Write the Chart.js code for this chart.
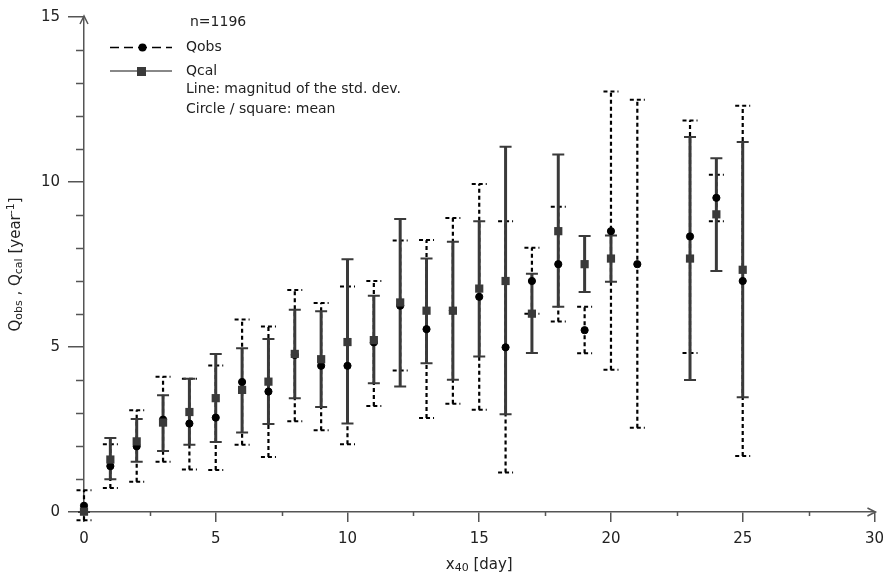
<!DOCTYPE html>
<html>
<head>
<meta charset="utf-8">
<script src="https://cdn.jsdelivr.net/npm/chart.js@4/dist/chart.umd.min.js"></script>
<style>
  html, body { margin: 0; padding: 0; background: #fff; }
  #wrap { width: 892px; height: 581px; }
</style>
</head>
<body>
<div id="wrap"><canvas id="qchart" width="892" height="581"></canvas></div>
<script>
// x40 classes in days
const days = [0, 1, 2, 3, 4, 5, 6, 7, 8, 9, 10, 11, 12, 13, 14, 15, 16, 17, 18, 19, 20, 21, 23, 24, 25];

// observed rate: mean and mean -/+ std. dev.
const obsMean = [0.19, 1.39, 1.99, 2.80, 2.68, 2.86, 3.94, 3.65, 4.76, 4.43, 4.43, 5.14, 6.25, 5.54, 6.10, 6.52, 4.99, 7.00, 7.51, 5.51, 8.51, 7.51, 8.35, 9.52, 7.00];
const obsLow  = [-0.25, 0.73, 0.92, 1.52, 1.29, 1.27, 2.04, 1.67, 2.75, 2.48, 2.05, 3.21, 4.29, 2.85, 3.28, 3.10, 1.20, 6.01, 5.77, 4.81, 4.31, 2.55, 4.82, 8.81, 1.70];
const obsHigh = [0.66, 2.05, 3.08, 4.10, 4.04, 4.44, 5.83, 5.62, 6.73, 6.33, 6.83, 7.00, 8.23, 8.24, 8.91, 9.94, 8.81, 8.01, 9.25, 6.22, 12.74, 12.49, 11.86, 10.22, 12.31];

// calculated rate (no value for day 21)
const calMean = [0.01, 1.59, 2.14, 2.71, 3.03, 3.45, 3.70, 3.95, 4.79, 4.63, 5.15, 5.21, 6.35, 6.10, 6.10, 6.77, 7.00, 6.01, 8.51, 7.51, 7.68, null, 7.68, 9.02, 7.34];
const calLow  = [0.00, 0.99, 1.52, 1.85, 2.04, 2.12, 2.41, 2.67, 3.45, 3.18, 2.68, 3.90, 3.80, 4.51, 4.01, 4.71, 2.96, 4.82, 6.22, 6.67, 6.98, null, 4.00, 7.30, 3.48];
const calHigh = [0.00, 2.24, 2.82, 3.54, 4.04, 4.79, 4.96, 5.24, 6.13, 6.08, 7.66, 6.55, 8.88, 7.68, 8.19, 8.81, 11.07, 7.22, 10.83, 8.36, 8.38, null, 11.36, 10.72, 11.21];

const xTicks = [0, 5, 10, 15, 20, 25, 30];
const yTicks = [0, 5, 10, 15];
const sampleSize = 1196;

const axisColor = '#555';
const textColor = '#222';
const calColor = '#3a3a3a';
const fontFam = '"DejaVu Sans", Verdana, sans-serif';

function toPoints(vals) {
    return days.map((d, i) => vals[i] === null ? null : { x: d, y: vals[i] }).filter(p => p);
}

// vertical std. dev. bars, drawn under the markers
const errorBars = {
    id: 'errorBars',
    beforeDatasetsDraw(chart) {
        const ctx = chart.ctx;
        const xs = chart.scales.x, ys = chart.scales.y;

        function bar(i, lo, hi, dashed, color, width, capW) {
            if (lo[i] === null) return;
            const px = xs.getPixelForValue(days[i]);
            const y1 = ys.getPixelForValue(lo[i]);
            const y2 = ys.getPixelForValue(hi[i]);
            ctx.save();
            ctx.strokeStyle = color;
            ctx.lineWidth = width;
            ctx.setLineDash(dashed ? [4, 3] : []);
            ctx.beginPath();
            ctx.moveTo(px, y1);
            ctx.lineTo(px, y2);
            ctx.stroke();
            ctx.lineWidth = 2;
            ctx.setLineDash(dashed ? [4, 3] : []);
            ctx.beginPath();
            ctx.moveTo(px - capW / 2, y1); ctx.lineTo(px + capW / 2, y1);
            ctx.moveTo(px - capW / 2, y2); ctx.lineTo(px + capW / 2, y2);
            ctx.stroke();
            ctx.restore();
        }

        days.forEach((d, i) => bar(i, obsLow, obsHigh, true, '#000', 2.2, 15));
        days.forEach((d, i) => bar(i, calLow, calHigh, false, calColor, 3, 12));
    }
};

// minor ticks, arrow heads, axis titles and the text legend
const decorations = {
    id: 'decorations',
    afterDraw(chart) {
        const ctx = chart.ctx;
        const xs = chart.scales.x, ys = chart.scales.y;
        const area = chart.chartArea;
        ctx.save();
        ctx.strokeStyle = axisColor;
        ctx.lineWidth = 1.5;
        ctx.beginPath();
        for (let v = 0; v <= 15; v++) {
            if (v % 5 === 0) continue;
            const py = Math.round(ys.getPixelForValue(v)) + 0.5;
            ctx.moveTo(area.left - 8, py); ctx.lineTo(area.left, py);
        }
        for (let v = 2.5; v < 30; v += 5) {
            const px = Math.round(xs.getPixelForValue(v)) + 0.5;
            ctx.moveTo(px, area.bottom); ctx.lineTo(px, area.bottom + 4);
        }
        // arrows
        ctx.moveTo(area.right - 7, area.bottom - 4); ctx.lineTo(area.right + 1, area.bottom); ctx.lineTo(area.right - 7, area.bottom + 4);
        ctx.moveTo(area.left - 4, area.top + 7); ctx.lineTo(area.left, area.top - 1); ctx.lineTo(area.left + 4, area.top + 7);
        ctx.stroke();

        ctx.fillStyle = textColor;
        ctx.textBaseline = 'middle';

        // x title: x40 [day]
        const big = '15px ' + fontFam, small = '11px ' + fontFam;
        const xParts = [['x', big, 0], ['40', small, 3], [' [day]', big, 0]];
        drawParts(ctx, xParts, (area.left + area.right) / 2, 565, 0);

        // y title: Qobs , Qcal [year-1]
        const yParts = [['Q', big, 0], ['obs', small, 3], [' , Q', big, 0], ['cal', small, 3],
                        [' [year', big, 0], ['-1', small, -5], [']', big, 0]];
        drawParts(ctx, yParts, 16, (area.top + area.bottom) / 2, -Math.PI / 2);

        // legend
        const lf = '14px ' + fontFam;
        ctx.font = lf;
        ctx.textAlign = 'left';
        ctx.fillText('n=' + sampleSize, 190, 22);
        ctx.fillText('Qobs', 186, 47);
        ctx.fillText('Qcal', 186, 71);
        ctx.fillText('Line: magnitud of the std. dev.', 186, 89);
        ctx.fillText('Circle / square: mean', 186, 109);

        ctx.strokeStyle = '#000';
        ctx.lineWidth = 1.5;
        ctx.setLineDash([9, 5]);
        ctx.beginPath();
        ctx.moveTo(110, 47.5); ctx.lineTo(172, 47.5);
        ctx.stroke();
        ctx.setLineDash([]);
        ctx.fillStyle = '#000';
        ctx.beginPath();
        ctx.arc(142.5, 47.5, 4, 0, Math.PI * 2);
        ctx.fill();

        ctx.strokeStyle = '#888';
        ctx.lineWidth = 2;
        ctx.beginPath();
        ctx.moveTo(110, 71); ctx.lineTo(172, 71);
        ctx.stroke();
        ctx.fillStyle = calColor;
        ctx.fillRect(137, 67, 9, 9);
        ctx.restore();
    }
};

function drawParts(ctx, parts, cx, cy, rot) {
    let total = 0;
    parts.forEach(p => { ctx.font = p[1]; total += ctx.measureText(p[0]).width; });
    ctx.save();
    ctx.translate(cx, cy);
    ctx.rotate(rot);
    ctx.textAlign = 'left';
    ctx.textBaseline = 'middle';
    let x = -total / 2;
    parts.forEach(p => {
        ctx.font = p[1];
        ctx.fillText(p[0], x, p[2]);
        x += ctx.measureText(p[0]).width;
    });
    ctx.restore();
}

const chart = new Chart(document.getElementById('qchart'), {
    type: 'scatter',
    data: {
        datasets: [
            {
                label: 'Qcal',
                data: toPoints(calMean),
                pointStyle: 'rect',
                pointRadius: 5.8,
                backgroundColor: calColor,
                borderColor: calColor,
                borderWidth: 0,
                order: 0
            },
            {
                label: 'Qobs',
                data: toPoints(obsMean),
                pointStyle: 'circle',
                pointRadius: 3.6,
                backgroundColor: '#000',
                borderColor: '#000',
                borderWidth: 1,
                order: 1
            }
        ]
    },
    options: {
        responsive: false,
        animation: false,
        clip: false,
        layout: { padding: { left: 0, top: 15, right: 13, bottom: 0 } },
        plugins: {
            legend: { display: false },
            tooltip: { enabled: false }
        },
        scales: {
            x: {
                type: 'linear',
                min: 0,
                max: 30,
                afterFit(scale) { scale.height = 69; },
                afterBuildTicks(scale) { scale.ticks = xTicks.map(v => ({ value: v })); },
                grid: { drawOnChartArea: false, tickLength: 10, color: axisColor, lineWidth: 1.5 },
                border: { color: axisColor, width: 1.5 },
                ticks: { color: textColor, padding: 8, maxRotation: 0, font: { family: fontFam, size: 15 } }
            },
            y: {
                type: 'linear',
                min: 0,
                max: 15,
                afterFit(scale) { scale.width = 84; },
                afterBuildTicks(scale) { scale.ticks = yTicks.map(v => ({ value: v })); },
                grid: { drawOnChartArea: false, tickLength: 16, color: axisColor, lineWidth: 1.5 },
                border: { color: axisColor, width: 1.5 },
                ticks: { color: textColor, padding: 8, font: { family: fontFam, size: 15 } }
            }
        }
    },
    plugins: [errorBars, decorations]
});
</script>
</body>
</html>
